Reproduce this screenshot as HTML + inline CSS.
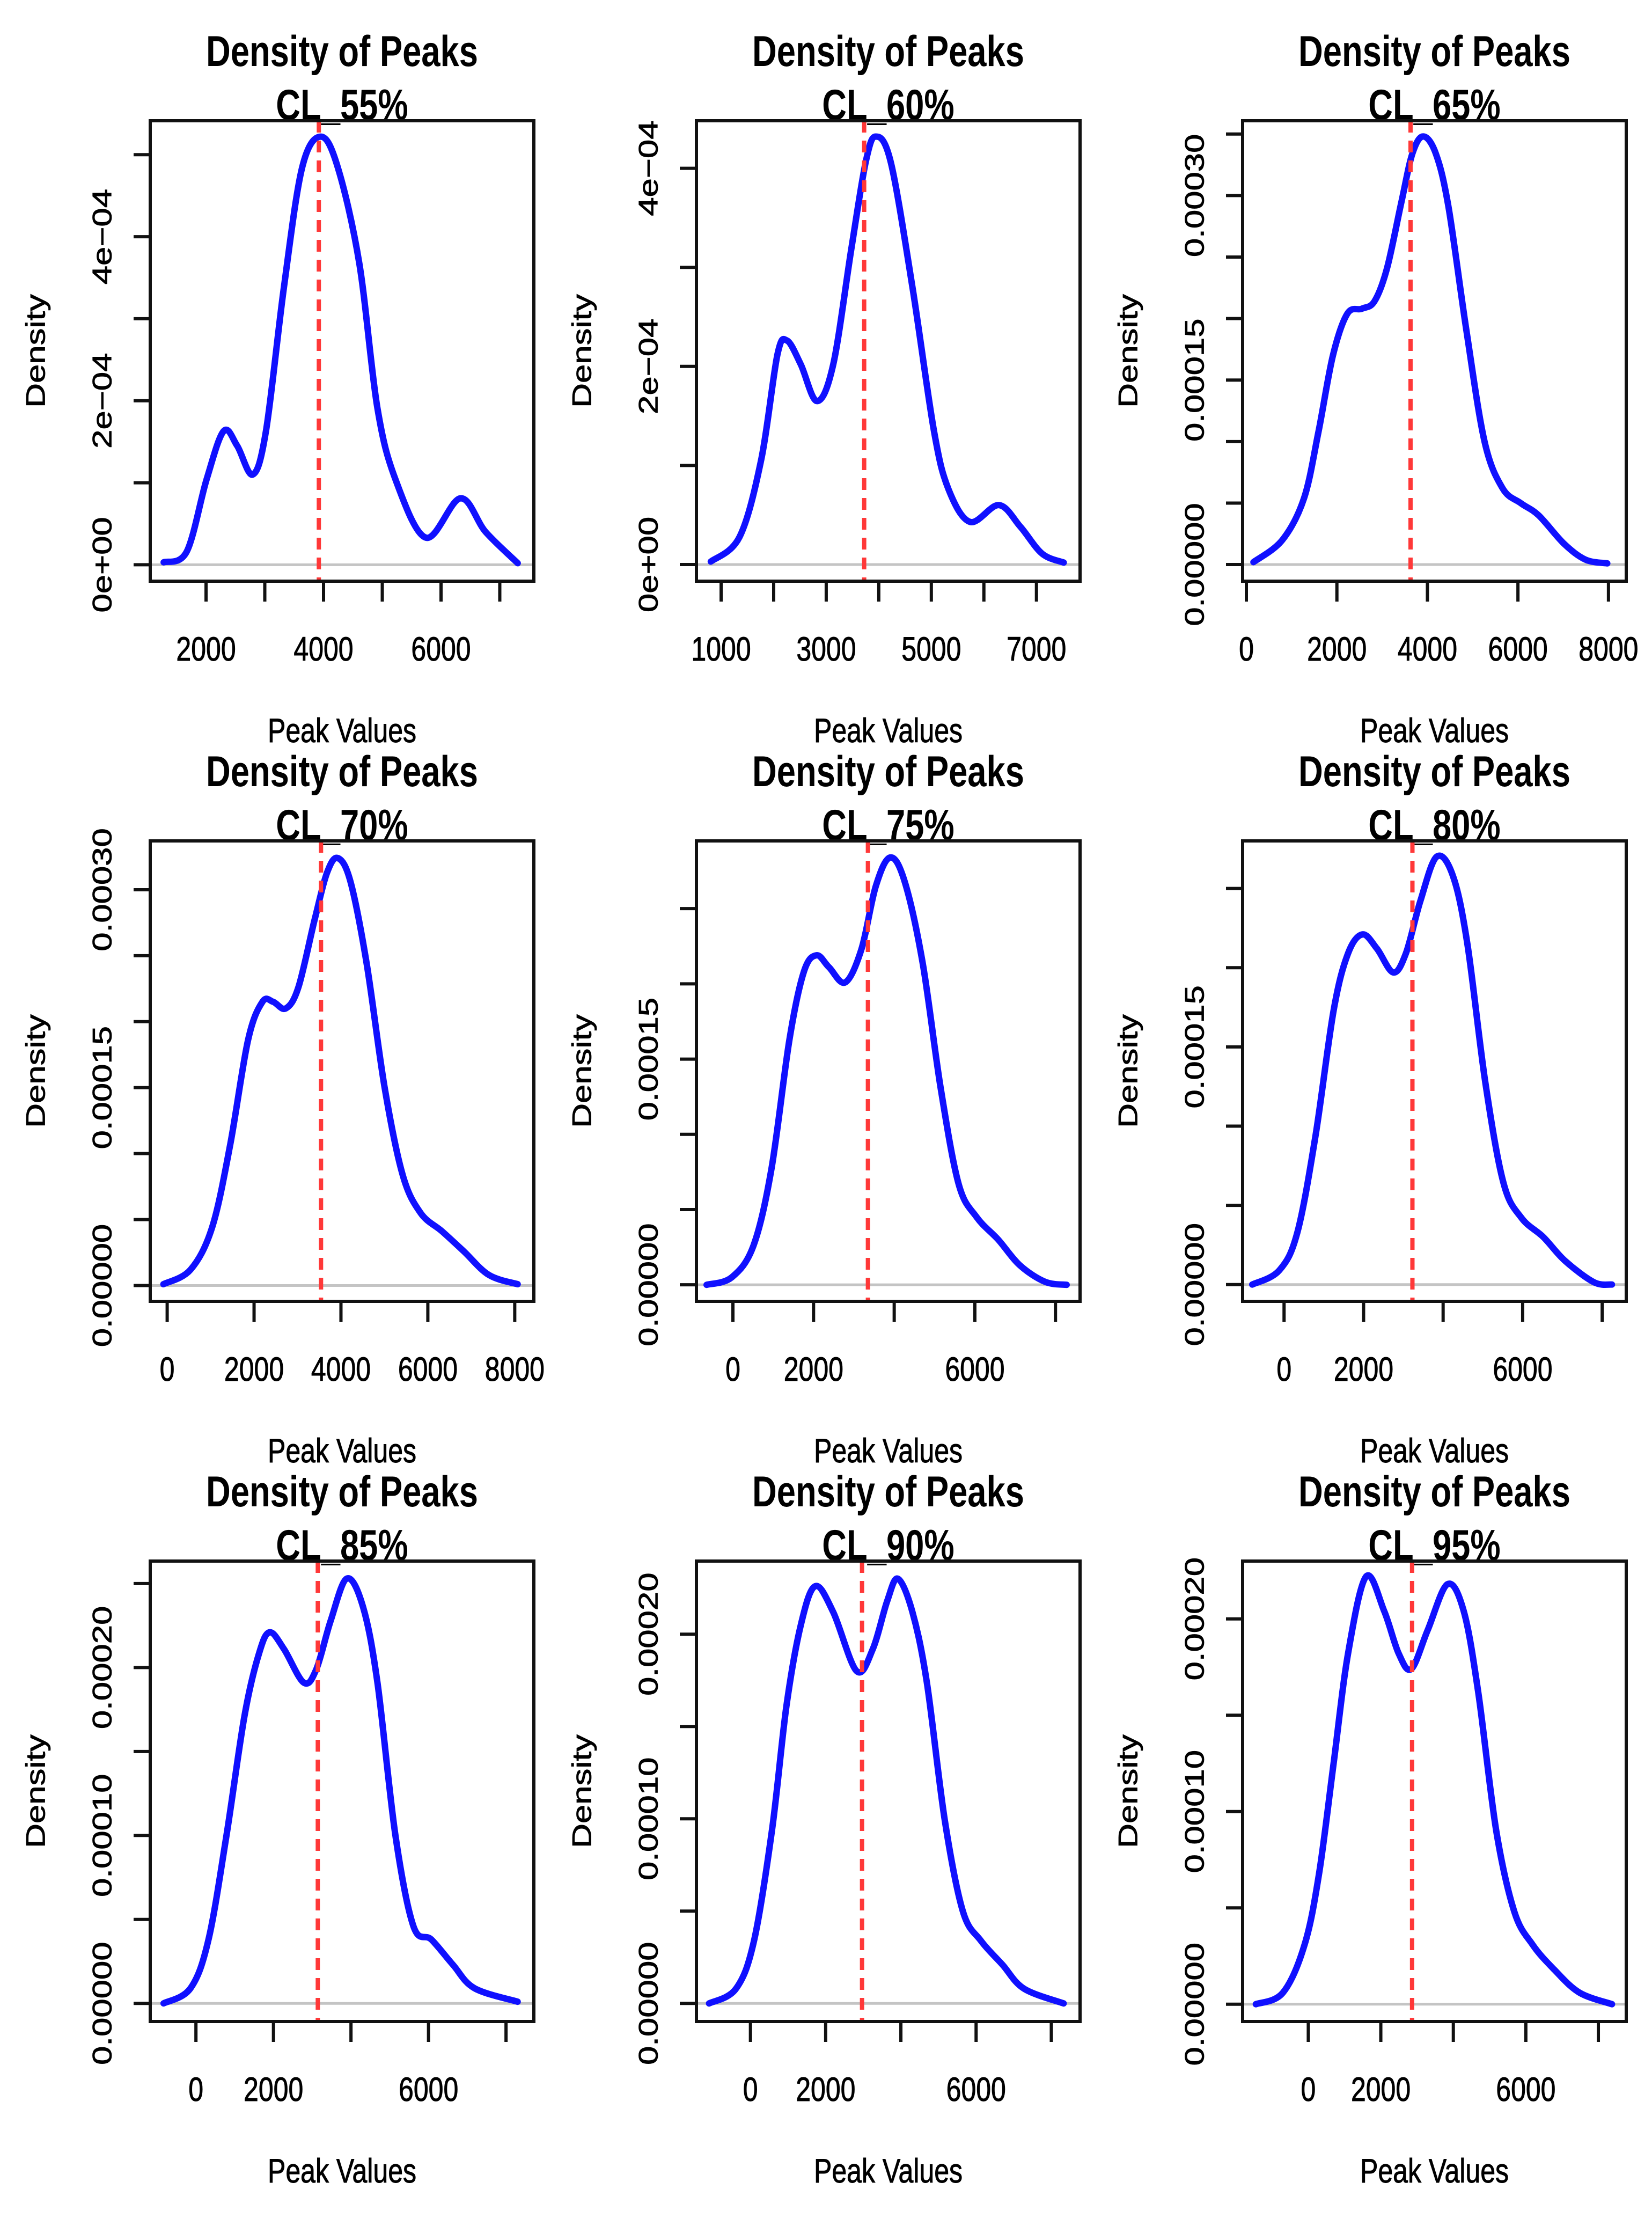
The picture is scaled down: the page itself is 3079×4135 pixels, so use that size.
<!DOCTYPE html>
<html><head><meta charset="utf-8">
<style>
html,body{margin:0;padding:0;background:#fff;}
svg{display:block;}
text{font-family:"Liberation Sans",Arial,sans-serif;fill:#000;}
</style></head>
<body>
<svg id="fig" width="3079" height="4135" viewBox="0 0 3079 4135" xmlns="http://www.w3.org/2000/svg"></svg>
<script>
// ---- data (x in peak values, y in units of 1e-4 density) ----
const labels = ["CL_55%","CL_60%","CL_65%","CL_70%","CL_75%","CL_80%","CL_85%","CL_90%","CL_95%"];
const xs55 = [1279,1671,2009,2300,2530,2795,3020,3325,3635,3955,4245,4610,4915,5225,5745,6330,6760,7305];
const ys55 = [0.03,0.16,1.04,1.63,1.45,1.10,1.63,3.38,4.84,5.22,4.84,3.67,1.92,1.04,0.33,0.81,0.40,0.02];
const xs60 = [804,1352,1763,2072,2256,2516,2825,3133,3476,3750,3942,4229,4640,5050,5327,5738,6286,6697,7108,7520];
const ys60 = [0.03,0.28,1.06,2.12,2.26,2.02,1.65,2.02,3.18,4.06,4.32,4.06,2.80,1.35,0.76,0.43,0.60,0.38,0.11,0.02];
const xs65 = [157,795,1274,1593,1912,2231,2550,2830,3108,3427,3667,3906,4186,4464,4863,5262,5661,6060,6458,7017,7495,7973];
const ys65 = [0.02,0.20,0.54,1.08,1.70,2.04,2.08,2.14,2.41,2.95,3.34,3.48,3.34,2.91,1.90,1.00,0.62,0.50,0.40,0.17,0.04,0.01];
const xs70 = [-86,537,1034,1447,1861,2192,2440,2730,3020,3392,3681,3930,4220,4592,5006,5419,5833,6330,6826,7405,8067];
const ys70 = [0.01,0.12,0.44,1.06,1.86,2.15,2.15,2.10,2.26,2.77,3.13,3.24,3.06,2.44,1.50,0.84,0.55,0.41,0.26,0.08,0.01];
const xs75 = [-652,-27,509,955,1402,1759,2072,2384,2786,3187,3544,3901,4259,4705,5151,5598,6044,6580,7115,7740,8276];
const ys75 = [0,0.05,0.26,0.77,1.63,2.08,2.19,2.11,2.01,2.23,2.65,2.84,2.68,2.14,1.31,0.67,0.45,0.30,0.13,0.02,0];
const xs80 = [-799,-118,336,791,1246,1609,1973,2336,2746,3064,3427,3837,4246,4610,5064,5519,5973,6519,7064,7791,8245];
const ys80 = [0,0.09,0.33,0.94,1.73,2.09,2.21,2.12,1.97,2.09,2.42,2.70,2.58,2.15,1.27,0.64,0.42,0.30,0.15,0.015,0];
const xs85 = [-835,-140,324,788,1251,1622,1901,2272,2782,3106,3477,3895,4312,4683,5147,5611,6075,6631,7187,8300];
const ys85 = [0,0.09,0.38,1.00,1.71,2.08,2.21,2.11,1.91,1.99,2.28,2.53,2.36,1.91,1.00,0.46,0.38,0.23,0.09,0.01];
const xs90 = [-1100,-383,96,574,957,1340,1723,2201,2824,3254,3637,3924,4307,4690,5169,5647,6126,6700,7274,8327];
const ys90 = [0,0.08,0.34,0.94,1.61,2.05,2.26,2.12,1.80,1.92,2.18,2.30,2.12,1.74,0.99,0.50,0.34,0.21,0.08,0];
const xs95 = [-1445,-698,-100,299,698,1097,1595,2094,2493,2842,3290,3839,4287,4686,5184,5683,6182,6780,7478,8375];
const ys95 = [0,0.06,0.31,0.68,1.25,1.82,2.22,2.04,1.82,1.74,1.94,2.18,2.04,1.62,0.90,0.48,0.31,0.18,0.06,0];
const cutoffs = [3920,3722,3627,3541,3348,3228,3144,2967,2862];
const xLims = [[1050,7580],[530,7830],[-83,8393],[-390,8440],[-905,8609],[-1042,8605],[-1179,8718],[-1436,8764],[-1811,8769]];
const yLims = [[-0.2,5.414],[-0.168,4.48],[-0.135,3.608],[-0.12,3.37],[-0.11,2.95],[-0.106,2.80],[-0.108,2.634],[-0.098,2.396],[-0.09,2.30]];
const xTicks1 = [2000,3000,4000,5000,6000,7000];
const xTickLabels1 = ["2000","4000","6000"];
const xTicks2 = [1000,2000,3000,4000,5000,6000,7000];
const xTickLabels2 = ["1000","3000","5000","7000"];
const xTicksWide = [0,2000,4000,6000,8000];
const xTickLabelsAll = ["0","2000","4000","6000","8000"];
const xTickLabelsSkip = ["0","2000","6000"];
const yTicks55 = [0,1,2,3,4,5];
const yTicks60 = [0,1,2,3,4];
const yLabelVals55 = [0,2,4];
const yLabelText55 = ["0e+00","2e\u221204","4e\u221204"];
const yTicks65 = [0,0.5,1,1.5,2,2.5,3,3.5];
const yTicks70 = [0,0.5,1,1.5,2,2.5,3];
const yTicks75 = [0,0.5,1,1.5,2,2.5];
const yTicks90 = [0,0.5,1,1.5,2];
const yLabelVals15 = [0,1.5,3];
const yLabelText15 = ["0.00000","0.00015","0.00030"];
const yLabelVals10 = [0,1,2];
const yLabelText10 = ["0.00000","0.00010","0.00020"];

const seriesX = [xs55,xs60,xs65,xs70,xs75,xs80,xs85,xs90,xs95];
const seriesY = [ys55,ys60,ys65,ys70,ys75,ys80,ys85,ys90,ys95];
const xTickSets = [xTicks1,xTicks2,xTicksWide,xTicksWide,xTicksWide,xTicksWide,xTicksWide,xTicksWide,xTicksWide];
const xLabelSets = [xTickLabels1,xTickLabels2,xTickLabelsAll,xTickLabelsAll,xTickLabelsSkip,xTickLabelsSkip,xTickLabelsSkip,xTickLabelsSkip,xTickLabelsSkip];
const yTickSets = [yTicks55,yTicks60,yTicks65,yTicks70,yTicks75,yTicks75,yTicks75,yTicks90,yTicks90];
const yLabelValSets = [yLabelVals55,yLabelVals55,yLabelVals15,yLabelVals15,yLabelVals15,yLabelVals15,yLabelVals10,yLabelVals10,yLabelVals10];
const yLabelTextSets = [yLabelText55,yLabelText55,yLabelText15,yLabelText15,yLabelText15,yLabelText15,yLabelText10,yLabelText10,yLabelText10];

// ---- geometry ----
const colLeft = [280,1298,2316], rowTop = [225,1567,2909];
const BW = 715, BH = 858;
const NS = "http://www.w3.org/2000/svg";
const svg = document.getElementById('fig');
function mk(tag, attrs, parent){
  const e = document.createElementNS(NS, tag);
  for (const k in attrs) e.setAttribute(k, attrs[k]);
  (parent||svg).appendChild(e);
  return e;
}
function smoothPath(pts){
  let d = 'M' + pts[0][0].toFixed(1) + ',' + pts[0][1].toFixed(1);
  for (let i=0;i<pts.length-1;i++){
    const p0 = pts[Math.max(0,i-1)], p1 = pts[i], p2 = pts[i+1], p3 = pts[Math.min(pts.length-1,i+2)];
    const c1x = p1[0]+(p2[0]-p0[0])/6, c1y = p1[1]+(p2[1]-p0[1])/6;
    const c2x = p2[0]-(p3[0]-p1[0])/6, c2y = p2[1]-(p3[1]-p1[1])/6;
    d += ' C'+c1x.toFixed(1)+','+c1y.toFixed(1)+' '+c2x.toFixed(1)+','+c2y.toFixed(1)+' '+p2[0].toFixed(1)+','+p2[1].toFixed(1);
  }
  return d;
}
const SY = 1.27;
function stretchedText(parent, x, y, str, size, weight, rot){
  const t = mk('text', {
    transform: 'translate('+x+','+y+') scale(1,'+SY+')' + (rot ? ' rotate(-90)' : ''),
    'text-anchor':'middle', 'dominant-baseline':'central',
    'font-size': size, 'font-weight': weight || 'normal',
    stroke:'#000', 'stroke-width':0.8
  }, parent);
  t.textContent = str;
  return t;
}

for (let p=0;p<9;p++){
  const L = colLeft[p%3], T = rowTop[Math.floor(p/3)], R = L+BW, B = T+BH;
  const xl = xLims[p], yl = yLims[p];
  const sx = v => L + (v - xl[0])/(xl[1]-xl[0])*BW;
  const sy = v => B - (v - yl[0])/(yl[1]-yl[0])*BH;
  const g = mk('g', {});
  
  

  // titles
  const t1 = mk('text', {transform:'translate('+(L+BW/2)+','+(T-129)+') scale(0.88,1.12)', 'text-anchor':'middle','dominant-baseline':'central','font-size':72,'font-weight':'bold'}, g);
  t1.textContent = 'Density of Peaks';
  
  
  const t2 = mk('text', {transform:'translate('+(L+BW/2)+','+(T-29)+') scale(0.88,1.12)', 'text-anchor':'middle','dominant-baseline':'central','font-size':72,'font-weight':'bold'}, g);
  t2.textContent = labels[p];
  
  

  // zero line
  const zl = mk('line', {x1:L, x2:R, y1:sy(0), y2:sy(0), stroke:'#c4c4c4', 'stroke-width':5}, g);
  
  

  // density curve
  const pts = seriesX[p].map((x,i)=>[sx(x), sy(seriesY[p][i])]);
  const cv = mk('path', {d: smoothPath(pts), fill:'none', stroke:'#1010ff', 'stroke-width':12, 'stroke-linejoin':'round','stroke-linecap':'round'}, g);
  
  

  // cutoff line
  const cl = mk('line', {x1:sx(cutoffs[p]), x2:sx(cutoffs[p]), y1:T, y2:B, stroke:'#ff3838', 'stroke-width':8, 'stroke-dasharray':'22 15'}, g);
  
  

  // box
  const bx = mk('rect', {x:L, y:T, width:BW, height:BH, fill:'none', stroke:'#111', 'stroke-width':6}, g);
  
  

  // x ticks
  const xt = xTickSets[p];
  const xAxis = mk('line', {x1:sx(xt[0]), x2:sx(xt[xt.length-1]), y1:B, y2:B, stroke:'#111','stroke-width':6}, g);
  
  
  xt.forEach(v=>{
    const tk = mk('line', {x1:sx(v), x2:sx(v), y1:B, y2:B+38, stroke:'#111','stroke-width':6}, g);
    
    
  });
  xLabelSets[p].forEach(s=>{
    const tl = stretchedText(g, sx(parseFloat(s)), B+127, s, 50);
    
    
  });
  // y ticks
  const yt = yTickSets[p];
  const yMaxTick = yt[yt.length-1];
  const yAxis = mk('line', {x1:L, x2:L, y1:sy(yt[0]), y2:sy(yMaxTick), stroke:'#111','stroke-width':6}, g);
  
  
  yt.forEach(v=>{
    const tk = mk('line', {x1:L-31, x2:L, y1:sy(v), y2:sy(v), stroke:'#111','stroke-width':6}, g);
    
    
  });
  yLabelValSets[p].forEach((v,i)=>{
    if (v > yMaxTick + 1e-9) return;
    const tl = stretchedText(g, L-89, sy(v), yLabelTextSets[p][i], 50, 'normal', true);
    
    
  });
  // axis titles
  const xtl = stretchedText(g, L+BW/2, B+279, 'Peak Values', 50);
  
  
  const ytl = stretchedText(g, L-213, T+BH/2, 'Density', 50, 'normal', true);
  
  
}
</script>
</body></html>
